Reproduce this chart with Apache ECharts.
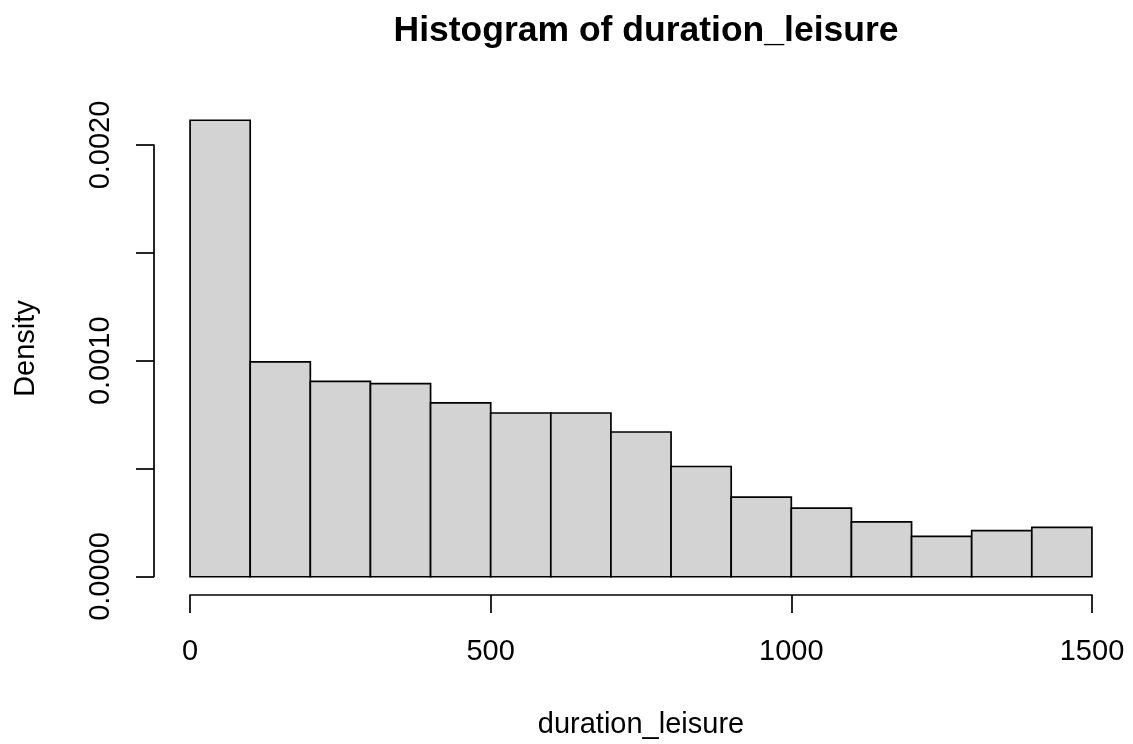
<!DOCTYPE html>
<html>
<head>
<meta charset="utf-8">
<script src="https://cdn.jsdelivr.net/npm/echarts@6/dist/echarts.min.js"></script>
<style>
  html, body { margin: 0; padding: 0; background: #ffffff; }
  #chart { width: 1133px; height: 744px; }
</style>
</head>
<body>
<div id="chart"></div>
<script>
// ---- data ----
const binStarts = [0, 100, 200, 300, 400, 500, 600, 700, 800, 900, 1000, 1100, 1200, 1300, 1400];
const binEnds   = [100, 200, 300, 400, 500, 600, 700, 800, 900, 1000, 1100, 1200, 1300, 1400, 1500];
const densities = [0.002116, 0.000996, 0.000906, 0.000895, 0.000806, 0.000759, 0.000759, 0.000671,
                   0.000511, 0.000369, 0.000318, 0.000254, 0.000187, 0.000214, 0.000229];
const xTicks = [0, 500, 1000, 1500];
const yTickLabels = ['0.0000', '0.0010', '0.0020'];
const titleText = 'Histogram of duration_leisure';
const xName = 'duration_leisure';
const yName = 'Density';

const FONT = '"Liberation Sans", Arial, sans-serif';
const histData = binStarts.map((s, i) => [s, binEnds[i], densities[i]]);

const chart = echarts.init(document.getElementById('chart'), null, { renderer: 'canvas' });
const LW = 1.7;
const axisLine = { show: true, lineStyle: { color: '#000', width: LW } };
const axisTick = { show: true, inside: false, length: 18, lineStyle: { color: '#000', width: LW } };
const hidden = { show: false };

chart.setOption({
  animation: false,
  backgroundColor: '#ffffff',
  title: {
    text: titleText,
    left: 641, top: 8, textAlign: 'center',
    textStyle: { fontFamily: FONT, fontSize: 35.5, fontWeight: 'bold', color: '#000' }
  },
  grid: [
    { left: 154, right: 5, top: 102, bottom: 149 },      // plot region (bars)
    { left: 190, right: 41, top: 102, bottom: 149 },     // x axis 0..1500
    { left: 154, right: 5, top: 145, bottom: 167.5 }     // y axis 0..0.002
  ],
  xAxis: [
    {
      gridIndex: 0, type: 'value', min: -60, max: 1560,
      axisLine: hidden, axisTick: hidden, axisLabel: hidden, splitLine: hidden,
      name: xName, nameLocation: 'middle', nameGap: 115,
      nameTextStyle: { fontFamily: FONT, fontSize: 29, color: '#000' }
    },
    {
      gridIndex: 1, type: 'value', min: 0, max: 1500, interval: 500,
      axisLine: axisLine, axisTick: axisTick, splitLine: hidden,
      axisLabel: {
        margin: 42, fontFamily: FONT, fontSize: 29, color: '#000',
        formatter: v => (xTicks.indexOf(v) >= 0 ? String(v) : '')
      }
    },
    {
      gridIndex: 2, type: 'value', min: 0, max: 1, show: false
    }
  ],
  yAxis: [
    {
      gridIndex: 0, type: 'value', min: -0.0000846, max: 0.0022006,
      axisLine: hidden, axisTick: hidden, axisLabel: hidden, splitLine: hidden,
      name: yName, nameLocation: 'middle', nameRotate: 90, nameGap: 114,
      nameTextStyle: { fontFamily: FONT, fontSize: 29, color: '#000' }
    },
    {
      gridIndex: 1, type: 'value', min: 0, max: 1, show: false
    },
    {
      gridIndex: 2, type: 'value', min: 0, max: 0.002, interval: 0.0005,
      axisLine: axisLine, axisTick: axisTick, splitLine: hidden,
      axisLabel: {
        margin: 39, rotate: 90, fontFamily: FONT, fontSize: 29, color: '#000',
        formatter: v => {
          const idx = Math.round(v / 0.001);
          return Math.abs(v - idx * 0.001) < 1e-9 ? (yTickLabels[idx] || '') : '';
        }
      }
    }
  ],
  series: [
    {
      type: 'custom',
      xAxisIndex: 0, yAxisIndex: 0,
      data: histData,
      encode: { x: [0, 1], y: 2 },
      clip: false,
      renderItem: (params, api) => {
        const p0 = api.coord([api.value(0), 0]);
        const p1 = api.coord([api.value(1), api.value(2)]);
        return {
          type: 'rect',
          shape: { x: p0[0], y: p1[1], width: p1[0] - p0[0], height: p0[1] - p1[1] },
          style: { fill: '#d3d3d3', stroke: '#000', lineWidth: LW }
        };
      }
    }
  ]
});
</script>
</body>
</html>
